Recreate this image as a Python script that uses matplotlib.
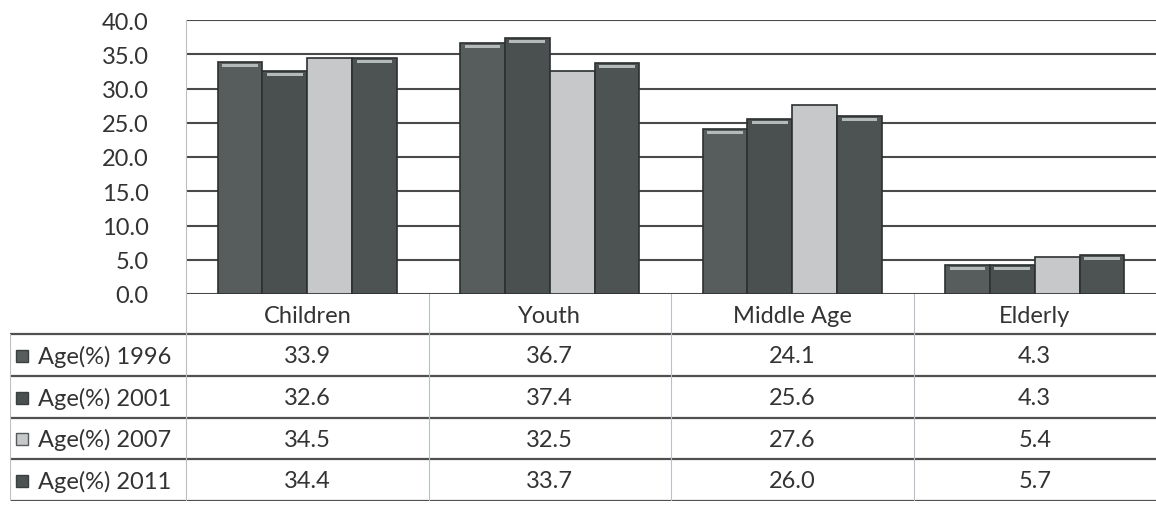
import matplotlib.pyplot as plt
import numpy as np

# chart data
categories = ["Children", "Youth", "Middle Age", "Elderly"]
series_names = ["Age(%) 1996", "Age(%) 2001", "Age(%) 2007", "Age(%) 2011"]
age_1996 = [33.9, 36.7, 24.1, 4.3]
age_2001 = [32.6, 37.4, 25.6, 4.3]
age_2007 = [34.5, 32.5, 27.6, 5.4]
age_2011 = [34.4, 33.7, 26.0, 5.7]
yticks = [0, 5, 10, 15, 20, 25, 30, 35, 40]

series = [age_1996, age_2001, age_2007, age_2011]
colors = ["#575c5d", "#4a4f50", "#c6c8ca", "#4d5253"]
text_col = "#333333"

plt.rcParams['font.family'] = ['Lato', 'DejaVu Sans']

W, H = 1156, 506
fig = plt.figure(figsize=(W / 100, H / 100), dpi=100)

# bar axes
left_px, right_px, top_px, base_px = 186, 1156, 21, 295
ax = fig.add_axes([left_px / W, 1 - base_px / H, (right_px - left_px) / W, (base_px - top_px) / H])
x = np.arange(len(categories))
bw = 0.185
for i, vals in enumerate(series):
    ax.bar(x + (i - 1.5) * bw, vals, width=bw, color=colors[i],
           edgecolor="#2c3030", linewidth=1.2, zorder=3)
    # light bevel at the top of each dark bar
    if i != 2:
        ax.bar(x + (i - 1.5) * bw, [0.45] * len(vals), bottom=np.array(vals) - 0.75,
               width=bw * 0.8, color="#b4b9ba", linewidth=0, zorder=4)

ax.set_xlim(-0.5, 3.5)
ax.set_ylim(0, 40)
ax.set_yticks(yticks)
ax.set_yticklabels([f"{v:.1f}" for v in yticks], fontsize=17, color=text_col)
ax.tick_params(axis="y", length=0, pad=27)
ax.set_xticks([])
ax.grid(axis="y", color="#4a4a4a", linewidth=1.5, zorder=0)
for s in ["top", "right", "bottom"]:
    ax.spines[s].set_visible(False)
ax.spines["left"].set_color("#b8c0c8")
ax.spines["left"].set_linewidth(0.8)

# data table below
tl_px, tb_px = 10, 502
unit = (right_px - left_px) / len(categories)
tab = fig.add_axes([tl_px / W, 1 - tb_px / H, (W - tl_px) / W, (tb_px - base_px) / H])
xl = -0.5 - (left_px - tl_px) / unit
tab.set_xlim(xl, 3.5)
tab.set_ylim(len(series), -0.96)
tab.axis("off")

for r in range(len(series) + 1):
    tab.plot([xl, 3.5], [r, r], color="#505050", linewidth=1.6, solid_capstyle="butt")
tab.plot([xl, xl], [0, len(series)], color="#b8c0c8", linewidth=0.8)
for b in np.arange(-0.5, 3.0, 1.0):
    tab.plot([b, b], [-0.96, len(series)], color="#b8c0c8", linewidth=0.8)

for j, cat in enumerate(categories):
    tab.text(j, -0.45, cat, ha="center", va="center", fontsize=17, color=text_col)

for i, vals in enumerate(series):
    yc = i + 0.52
    ec = "#3a3f40" if i != 2 else "#555a5c"
    tab.plot([xl + 0.05], [yc], marker="s", markersize=8.5, color=colors[i],
             markeredgecolor=ec, markeredgewidth=1)
    tab.text(xl + 0.115, yc, series_names[i], ha="left", va="center", fontsize=17, color=text_col)
    for j, v in enumerate(vals):
        tab.text(j, yc, f"{v:.1f}", ha="center", va="center", fontsize=17, color=text_col)

fig.savefig("out.png", dpi=100)
